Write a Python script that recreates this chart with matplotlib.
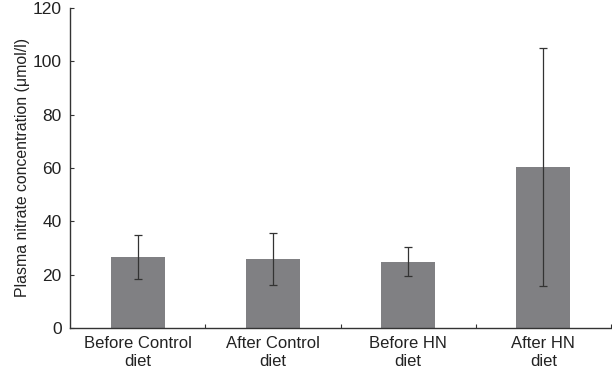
import matplotlib.pyplot as plt
import numpy as np

plt.rcParams['font.family'] = ['Liberation Sans', 'DejaVu Sans']

categorias = ['Before Control\ndiet', 'After Control\ndiet', 'Before HN\ndiet', 'After HN\ndiet']
medias = [26.7, 25.9, 24.9, 60.4]
errores = [8.3, 9.7, 5.4, 44.6]

x = np.arange(len(categorias))

fig = plt.figure(figsize=(6.12, 3.74), dpi=100)
ax = fig.add_axes([0.1144, 0.123, 0.884, 0.856])

ax.bar(x, medias, width=0.4, color='#808083', zorder=2)
ax.errorbar(x, medias, yerr=errores, fmt='none', ecolor='#333333',
            elinewidth=0.9, capsize=3, capthick=0.9, zorder=3)

ax.set_xlim(-0.5, 3.5)
ax.set_ylim(0, 120)
ax.set_yticks(np.arange(0, 121, 20))

# ticks del eje x en los limites entre categorias
ax.set_xticks(np.arange(0.5, 3.6, 1))
ax.set_xticklabels([])
ax.set_xticks(x, minor=True)
ax.set_xticklabels(categorias, minor=True, fontsize=12, color='#222222', linespacing=1.25)
ax.tick_params(axis='x', which='minor', length=0, pad=6)
ax.tick_params(axis='x', which='major', direction='in', length=3, color='#333333')
ax.tick_params(axis='y', direction='in', length=3, labelsize=12.5, pad=6,
               labelcolor='#222222', color='#333333')

ax.spines['top'].set_visible(False)
ax.spines['right'].set_visible(False)
for s in ['left', 'bottom']:
    ax.spines[s].set_color('#333333')
    ax.spines[s].set_linewidth(1.0)

ax.set_ylabel('Plasma nitrate concentration (μmol/l)', fontsize=11.4, color='#222222', labelpad=2)

plt.savefig('out.png', dpi=100)
